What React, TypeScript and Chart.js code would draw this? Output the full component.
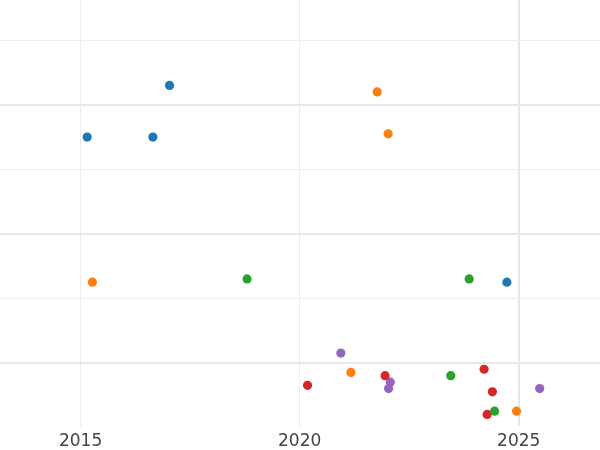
import React, { useEffect, useRef } from "react";
import { Chart, registerables } from "chart.js";

Chart.register(...registerables);

// Series data: year (x) and value (y) for each group
const blueYears = [2015.15, 2016.65, 2017.03, 2024.73];
const blueValues = [5.5, 5.5, 6.3, 3.25];

const orangeYears = [2015.27, 2021.77, 2022.02, 2021.17, 2024.95];
const orangeValues = [3.25, 6.2, 5.55, 1.85, 1.25];

const greenYears = [2018.8, 2023.87, 2023.45, 2024.45];
const greenValues = [3.3, 3.3, 1.8, 1.25];

const redYears = [2020.18, 2021.95, 2024.21, 2024.4, 2024.28];
const redValues = [1.65, 1.8, 1.9, 1.55, 1.2];

const purpleYears = [2020.94, 2022.07, 2022.03, 2025.48];
const purpleValues = [2.15, 1.7, 1.6, 1.6];

const xTickLabels = [2015, 2020, 2025];
const yGridValues = [2, 3, 4, 5, 6, 7];

const seriesColors = ["#1f77b4", "#ff7f0e", "#2ca02c", "#d62728", "#9467bd"];

function toPoints(xs: number[], ys: number[]) {
  return xs.map((x, i) => ({ x, y: ys[i] }));
}

export default function App() {
  const canvasRef = useRef<HTMLCanvasElement | null>(null);

  useEffect(() => {
    if (!canvasRef.current) return;
    const series = [
      toPoints(blueYears, blueValues),
      toPoints(orangeYears, orangeValues),
      toPoints(greenYears, greenValues),
      toPoints(redYears, redValues),
      toPoints(purpleYears, purpleValues),
    ];
    const chart = new Chart(canvasRef.current, {
      type: "scatter",
      data: {
        datasets: series.map((data, i) => ({
          data,
          backgroundColor: seriesColors[i],
          borderWidth: 0,
          pointRadius: 4.6,
          pointHoverRadius: 4.6,
        })),
      },
      options: {
        animation: false,
        responsive: false,
        devicePixelRatio: 1,
        layout: { padding: 0, autoPadding: false },
        plugins: { legend: { display: false }, tooltip: { enabled: false } },
        scales: {
          x: {
            type: "linear",
            min: 2013.16,
            max: 2026.856,
            afterBuildTicks: (axis: any) => {
              axis.ticks = xTickLabels.map((v) => ({ value: v }));
            },
            afterFit: (axis: any) => {
              axis.height = 24;
            },
            border: { display: false },
            grid: {
              drawTicks: false,
              color: (ctx: any) => (ctx.tick && ctx.tick.value === 2025 ? "#e6e6e6" : "#ececec"),
              lineWidth: (ctx: any) => (ctx.tick && ctx.tick.value === 2025 ? 2 : 1),
            },
            ticks: {
              padding: 5,
              color: "#444",
              font: { family: "DejaVu Sans", size: 17 },
              maxRotation: 0,
              callback: (v: any) => String(v),
            },
          },
          y: {
            type: "linear",
            min: 1.02,
            max: 7.625,
            afterBuildTicks: (axis: any) => {
              axis.ticks = yGridValues.map((v) => ({ value: v }));
            },
            border: { display: false },
            grid: {
              drawTicks: false,
              color: (ctx: any) => (ctx.tick && ctx.tick.value % 2 === 0 ? "#e8e8e8" : "#eeeeee"),
              lineWidth: (ctx: any) => (ctx.tick && ctx.tick.value % 2 === 0 ? 2 : 1),
            },
            ticks: { display: false },
          },
        },
      },
    });
    return () => chart.destroy();
  }, []);

  return (
    <div style={{ position: "absolute", left: 0, top: 0, width: 600, height: 450, background: "#fff" }}>
      <canvas ref={canvasRef} width={600} height={450} />
    </div>
  );
}
